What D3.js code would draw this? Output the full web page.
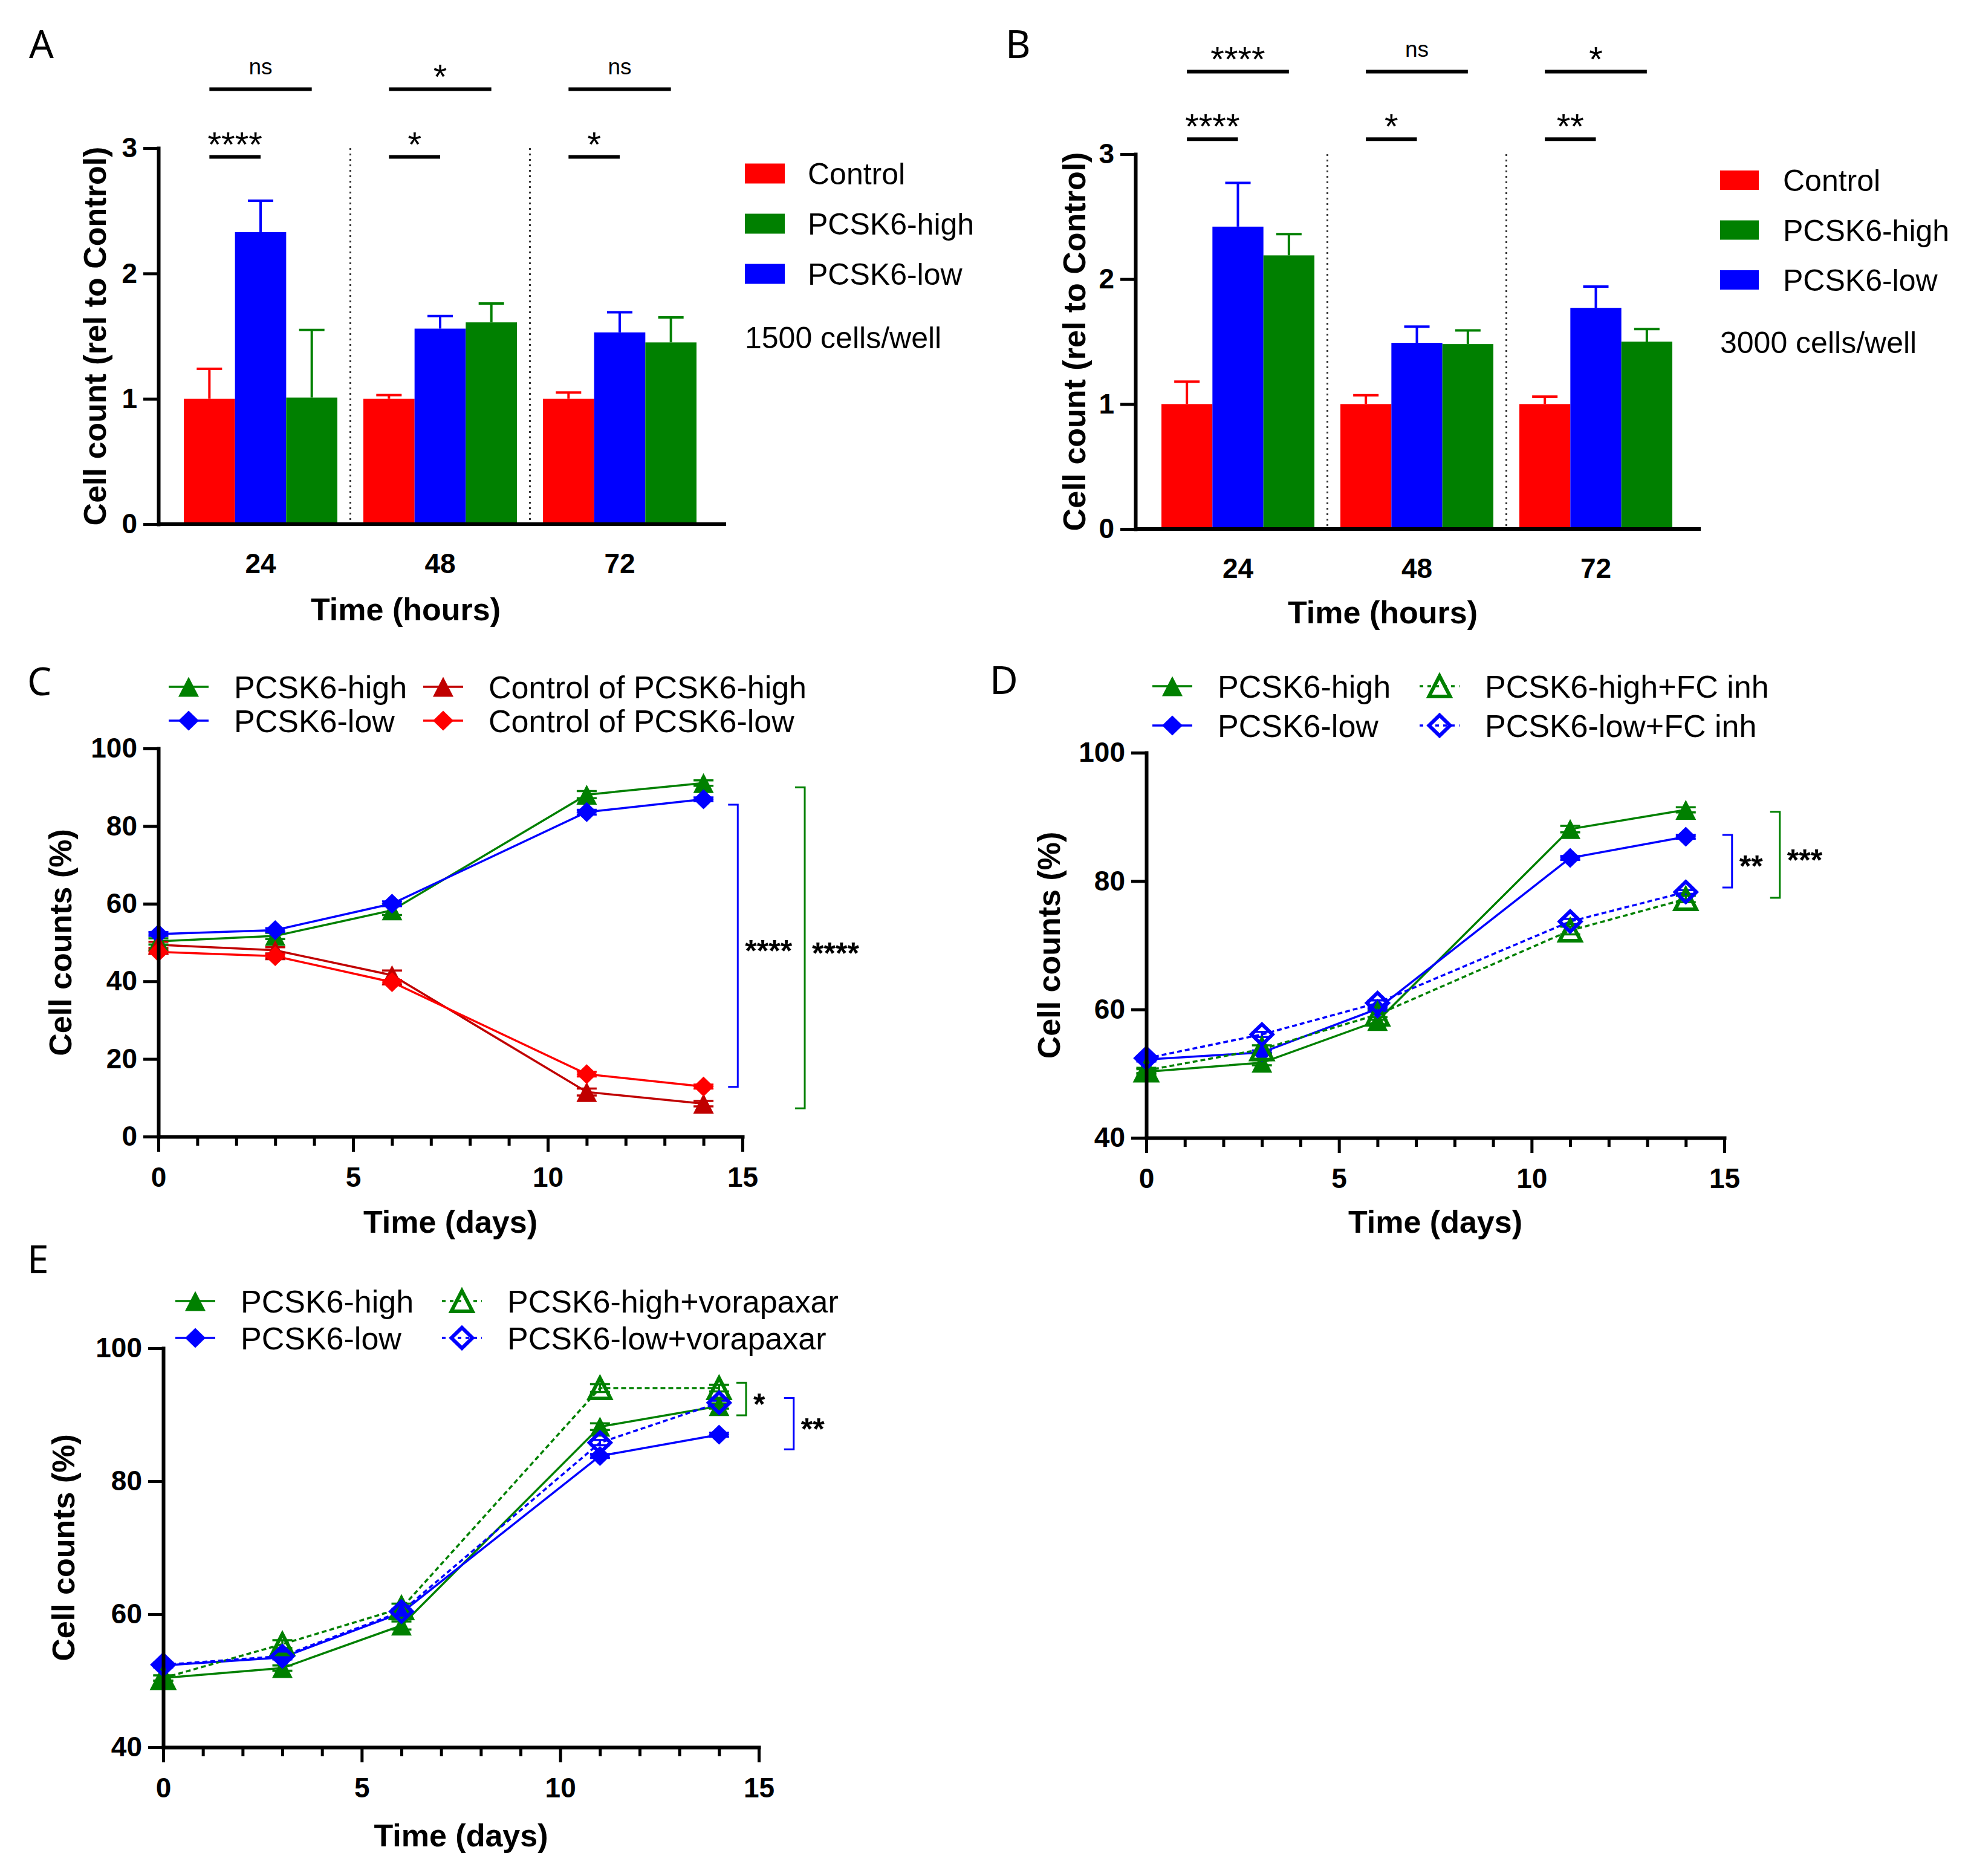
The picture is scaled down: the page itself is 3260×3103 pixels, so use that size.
<!DOCTYPE html>
<html>
<head>
<meta charset="utf-8">
<script src="https://cdn.jsdelivr.net/npm/d3@7"></script>
<style>
  body { margin: 0; background: #fff; }
  text { font-family: "Liberation Sans", Arial, sans-serif; }
</style>
</head>
<body>
<div id="container"></div>
<script>
// ---------- data ----------
// bar panels (A, B)
var barGroups = ["24", "48", "72"];
var barOrder = ["Control", "PCSK6-low", "PCSK6-high"];      // order inside each group
var barLegend = ["Control", "PCSK6-high", "PCSK6-low"];     // order in legend

var aControl = [1.00, 1.00, 1.00];
var aLow     = [2.33, 1.56, 1.53];
var aHigh    = [1.01, 1.61, 1.45];
var aControlErr = [0.24, 0.03, 0.05];
var aLowErr     = [0.25, 0.10, 0.16];
var aHighErr    = [0.54, 0.15, 0.20];
var aSigLow  = ["****", "*", "*"];    // Control vs PCSK6-low
var aSigHigh = ["ns", "*", "ns"];     // Control vs PCSK6-high

var bControl = [1.00, 1.00, 1.00];
var bLow     = [2.42, 1.49, 1.77];
var bHigh    = [2.19, 1.48, 1.50];
var bControlErr = [0.18, 0.07, 0.06];
var bLowErr     = [0.35, 0.13, 0.17];
var bHighErr    = [0.17, 0.11, 0.10];
var bSigLow  = ["****", "*", "**"];
var bSigHigh = ["****", "ns", "*"];

// line panels (C, D, E)
var days = [0, 3, 6, 11, 14];

var cHigh     = [50.3, 51.7, 58.3, 88.1, 91.1];
var cLow      = [52.2, 53.2, 60.0, 83.6, 86.9];
var cCtrlHigh = [49.4, 48.0, 41.6, 11.5, 8.5];
var cCtrlLow  = [47.6, 46.5, 39.8, 16.1, 12.9];
var cHighErr     = [0.8, 0.8, 1.2, 0.9, 0.7];
var cLowErr      = [0.5, 0.5, 0.6, 0.6, 0.5];
var cCtrlHighErr = [0.8, 0.8, 1.2, 0.9, 0.7];
var cCtrlLowErr  = [0.5, 0.5, 0.6, 0.6, 0.5];

var dHigh   = [50.3, 51.7, 58.2, 88.1, 91.1];
var dLow    = [52.2, 53.3, 60.1, 83.6, 86.9];
var dHighFC = [50.5, 53.8, 59.2, 72.3, 77.2];
var dLowFC  = [52.4, 56.1, 61.0, 73.7, 78.3];
var dHighErr   = [0.4, 0.4, 0.6, 0.5, 0.4];
var dLowErr    = [0.3, 0.3, 0.3, 0.3, 0.3];
var dHighFCErr = [0.4, 0.6, 0.8, 0.6, 0.5];
var dLowFCErr  = [0.3, 0.4, 0.4, 0.4, 0.3];

var eHigh  = [50.4, 51.9, 58.3, 88.2, 91.3];
var eLow   = [52.3, 53.5, 60.2, 83.8, 87.0];
var eHighV = [50.4, 55.5, 60.9, 94.0, 94.0];
var eLowV  = [52.4, 53.7, 60.4, 85.8, 91.8];
var eHighErr  = [0.4, 0.4, 0.6, 0.5, 0.4];
var eLowErr   = [0.3, 0.3, 0.3, 0.3, 0.3];
var eHighVErr = [0.4, 0.6, 0.7, 0.6, 0.5];
var eLowVErr  = [0.3, 0.3, 0.4, 0.4, 0.3];

var green = "#008000", blue = "#0000ff", red = "#ff0000", darkRed = "#c00000";
var barColor = {"Control": red, "PCSK6-high": green, "PCSK6-low": blue};

// ---------- symbols ----------
var triangleType = {
  draw: function(ctx, size) {
    var w = size, h = size * 0.97;
    ctx.moveTo(0, -h / 2);
    ctx.lineTo(w / 2, h / 2);
    ctx.lineTo(-w / 2, h / 2);
    ctx.closePath();
  }
};
var diamondType = {
  draw: function(ctx, size) {
    var w = size, h = size * 0.97;
    ctx.moveTo(0, -h / 2);
    ctx.lineTo(w / 2, 0);
    ctx.lineTo(0, h / 2);
    ctx.lineTo(-w / 2, 0);
    ctx.closePath();
  }
};

var svg = d3.select("#container").append("svg")
  .attr("width", 3260)
  .attr("height", 3103)
  .style("display", "block");
svg.append("rect").attr("width", 3260).attr("height", 3103).attr("fill", "#fff");

function styleAxis(g, fontSize) {
  g.attr("font-family", "'Liberation Sans', Arial, sans-serif")
    .attr("font-size", fontSize)
    .attr("font-weight", "bold")
    .attr("color", "#000");
  g.select(".domain").attr("stroke-width", 6).attr("stroke-linecap", "square");
  g.selectAll(".tick line").attr("stroke-width", 5);
}

function panelLetter(letter, x, y) {
  svg.append("text")
    .attr("x", x).attr("y", y)
    .style("font-family", "'Noto Sans', 'Open Sans', sans-serif")
    .attr("font-size", 64)
    .text(letter);
}

// ---------- bar panel ----------
function drawBarPanel(cfg) {
  var data = {
    "Control": {mean: cfg.control, err: cfg.controlErr},
    "PCSK6-low": {mean: cfg.low, err: cfg.lowErr},
    "PCSK6-high": {mean: cfg.high, err: cfg.highErr}
  };

  var step = cfg.step, pad = 43 / step;
  var x0 = d3.scaleBand()
    .domain(barGroups)
    .range([cfg.bandStart, cfg.bandStart + step * barGroups.length])
    .paddingInner(pad)
    .paddingOuter(pad / 2);
  var x1 = d3.scaleBand().domain(barOrder).range([0, x0.bandwidth()]);
  var y = d3.scaleLinear().domain([0, 3]).range([cfg.bottom, cfg.top]);

  var g = svg.append("g");

  // separators between time points
  barGroups.slice(0, -1).forEach(function(grp) {
    var sx = x0(grp) + x0.bandwidth() + step * pad / 2;
    g.append("line")
      .attr("x1", sx).attr("x2", sx)
      .attr("y1", y(3)).attr("y2", y(0))
      .attr("stroke", "#333")
      .attr("stroke-width", 3)
      .attr("stroke-dasharray", "3,6");
  });

  // bars
  barGroups.forEach(function(grp, gi) {
    barOrder.forEach(function(s) {
      var v = data[s].mean[gi];
      g.append("rect")
        .attr("x", x0(grp) + x1(s))
        .attr("y", y(v))
        .attr("width", x1.bandwidth())
        .attr("height", y(0) - y(v))
        .attr("fill", barColor[s]);
    });
  });

  // error bars (upper only)
  barGroups.forEach(function(grp, gi) {
    barOrder.forEach(function(s) {
      var v = data[s].mean[gi], e = data[s].err[gi];
      var cx = x0(grp) + x1(s) + x1.bandwidth() / 2;
      g.append("line")
        .attr("x1", cx).attr("x2", cx)
        .attr("y1", y(v)).attr("y2", y(v + e))
        .attr("stroke", barColor[s]).attr("stroke-width", 4);
      g.append("line")
        .attr("x1", cx - 21).attr("x2", cx + 21)
        .attr("y1", y(v + e)).attr("y2", y(v + e))
        .attr("stroke", barColor[s]).attr("stroke-width", 4);
    });
  });

  // axes
  var yAxis = g.append("g")
    .attr("transform", "translate(" + cfg.axisX + ",0)")
    .call(d3.axisLeft(y).tickValues([0, 1, 2, 3]).tickSize(25).tickPadding(10)
      .tickSizeOuter(0).tickFormat(d3.format("d")));
  styleAxis(yAxis, 46);

  g.append("line")
    .attr("x1", cfg.axisX).attr("x2", cfg.axisEnd)
    .attr("y1", y(0)).attr("y2", y(0))
    .attr("stroke", "#000").attr("stroke-width", 6);

  var xAxis = g.append("g")
    .attr("transform", "translate(0," + y(0) + ")")
    .call(d3.axisBottom(x0).tickSize(0).tickPadding(48));
  styleAxis(xAxis, 46);
  xAxis.select(".domain").remove();

  // significance
  function sigRow(labels, target, level) {
    barGroups.forEach(function(grp, gi) {
      var xa = x0(grp) + x1("Control") + x1.bandwidth() / 2;
      var xb = x0(grp) + x1(target) + x1.bandwidth() / 2;
      var ly = y(level);
      g.append("line")
        .attr("x1", xa).attr("x2", xb)
        .attr("y1", ly).attr("y2", ly)
        .attr("stroke", "#000").attr("stroke-width", 6);
      var isNs = labels[gi] === "ns";
      g.append("text")
        .attr("x", (xa + xb) / 2)
        .attr("y", isNs ? ly - 25 : ly - 1)
        .attr("text-anchor", "middle")
        .attr("font-size", isNs ? 37 : 58)
        .text(labels[gi]);
    });
  }
  sigRow(cfg.sigLow, "PCSK6-low", cfg.sigLevels[0]);
  sigRow(cfg.sigHigh, "PCSK6-high", cfg.sigLevels[1]);

  // legend
  barLegend.forEach(function(s, i) {
    var cy = cfg.legY + i * cfg.legStep;
    g.append("rect")
      .attr("x", cfg.legX).attr("y", cy - cfg.legH / 2)
      .attr("width", cfg.legW).attr("height", cfg.legH)
      .attr("fill", barColor[s]);
    g.append("text")
      .attr("x", cfg.legTextX).attr("y", cy + 18)
      .attr("font-size", 50)
      .text(s);
  });
  g.append("text")
    .attr("x", cfg.legX).attr("y", cfg.noteY + 18)
    .attr("font-size", 50)
    .text(cfg.note);

  // titles
  g.append("text")
    .attr("x", cfg.xTitleX).attr("y", cfg.xTitleY)
    .attr("text-anchor", "middle")
    .attr("font-size", 52).attr("font-weight", "bold")
    .text("Time (hours)");
  g.append("text")
    .attr("transform", "translate(" + cfg.yTitleX + "," + (y(0) + y(3)) / 2 + ") rotate(-90)")
    .attr("text-anchor", "middle")
    .attr("font-size", 52).attr("font-weight", "bold")
    .text("Cell count (rel to Control)");
}

// ---------- line panel ----------
function drawLinePanel(cfg) {
  var x = d3.scaleLinear().domain([0, 15]).range([cfg.left, cfg.right]);
  var y = d3.scaleLinear().domain([cfg.yMin, 100]).range([cfg.bottom, cfg.top]);
  var g = svg.append("g");

  var line = d3.line()
    .x(function(d, i) { return x(days[i]); })
    .y(function(d) { return y(d); });

  function markerPath(s) {
    return d3.symbol()
      .type(s.marker === "triangle" ? triangleType : diamondType)
      .size(s.hollow ? 35 : 34)();
  }

  // lines
  cfg.series.forEach(function(s) {
    g.append("path")
      .attr("d", line(s.values))
      .attr("fill", "none")
      .attr("stroke", s.color)
      .attr("stroke-width", 3.5)
      .attr("stroke-dasharray", s.dashed ? "8,5" : null);
  });

  // error bars
  cfg.series.forEach(function(s) {
    s.values.forEach(function(v, i) {
      var cx = x(days[i]), ya = y(v - s.err[i]), yb = y(v + s.err[i]);
      g.append("path")
        .attr("d", "M" + cx + "," + ya + "V" + yb +
          "M" + (cx - 16.5) + "," + ya + "H" + (cx + 16.5) +
          "M" + (cx - 16.5) + "," + yb + "H" + (cx + 16.5))
        .attr("fill", "none")
        .attr("stroke", s.color)
        .attr("stroke-width", 3.5);
    });
  });

  // markers
  cfg.series.forEach(function(s) {
    g.selectAll(null)
      .data(s.values)
      .enter()
      .append("path")
      .attr("transform", function(d, i) { return "translate(" + x(days[i]) + "," + y(d) + ")"; })
      .attr("d", markerPath(s))
      .attr("fill", s.hollow ? "none" : s.color)
      .attr("stroke", s.hollow ? s.color : "none")
      .attr("stroke-width", 6);
  });

  // axes
  var yAxis = g.append("g")
    .attr("transform", "translate(" + cfg.left + ",0)")
    .call(d3.axisLeft(y).tickValues(d3.range(cfg.yMin, 101, 20)).tickSize(25)
      .tickPadding(10).tickSizeOuter(0));
  styleAxis(yAxis, 46);

  var minor = g.append("g")
    .attr("transform", "translate(0," + cfg.bottom + ")")
    .call(d3.axisBottom(x).tickValues(d3.range(1, 15).filter(function(d) { return d % 5 !== 0; }))
      .tickSize(15).tickFormat(""));
  styleAxis(minor, 46);
  minor.select(".domain").remove();

  var xAxis = g.append("g")
    .attr("transform", "translate(0," + cfg.bottom + ")")
    .call(d3.axisBottom(x).tickValues([0, 5, 10, 15]).tickSize(25).tickPadding(25)
      .tickSizeOuter(0));
  styleAxis(xAxis, 46);

  // significance brackets
  cfg.brackets.forEach(function(b) {
    var bx = x(b.x), ya = y(b.y0), yb = y(b.y1);
    g.append("path")
      .attr("d", "M" + (bx - 16) + "," + ya + "H" + bx + "V" + yb + "H" + (bx - 16))
      .attr("fill", "none")
      .attr("stroke", b.color)
      .attr("stroke-width", 3);
    g.append("text")
      .attr("x", bx + 12)
      .attr("y", (ya + yb) / 2 + 26)
      .attr("font-size", 50).attr("font-weight", "bold")
      .text(b.label);
  });

  // legend (2 x 2)
  cfg.series.forEach(function(s, i) {
    var col = Math.floor(i / 2), row = i % 2;
    var sx = cfg.legCols[col], sy = cfg.legRows[row];
    g.append("line")
      .attr("x1", sx - 33).attr("x2", sx + 33)
      .attr("y1", sy).attr("y2", sy)
      .attr("stroke", s.color).attr("stroke-width", 3.5)
      .attr("stroke-dasharray", s.dashed ? "6,7" : null);
    g.append("path")
      .attr("transform", "translate(" + sx + "," + sy + ")")
      .attr("d", markerPath(s))
      .attr("fill", "none")
      .attr("fill", s.hollow ? "none" : s.color)
      .attr("stroke", s.hollow ? s.color : "none")
      .attr("stroke-width", 6);
    g.append("text")
      .attr("x", sx + 75).attr("y", sy + 19)
      .attr("font-size", 52)
      .text(s.name);
  });

  // titles
  g.append("text")
    .attr("x", (cfg.left + cfg.right) / 2).attr("y", cfg.xTitleY)
    .attr("text-anchor", "middle")
    .attr("font-size", 52).attr("font-weight", "bold")
    .text("Time (days)");
  g.append("text")
    .attr("transform", "translate(" + cfg.yTitleX + "," + (cfg.top + cfg.bottom) / 2 + ") rotate(-90)")
    .attr("text-anchor", "middle")
    .attr("font-size", 52).attr("font-weight", "bold")
    .text("Cell counts (%)");
}

// ---------- panels ----------
drawBarPanel({
  control: aControl, low: aLow, high: aHigh,
  controlErr: aControlErr, lowErr: aLowErr, highErr: aHighErr,
  sigLow: aSigLow, sigHigh: aSigHigh, sigLevels: [2.93, 3.47],
  axisX: 262, axisEnd: 1201, top: 245, bottom: 867, bandStart: 282.5, step: 297,
  legX: 1232, legY: 287, legStep: 83, legW: 66, legH: 33, legTextX: 1336,
  note: "1500 cells/well", noteY: 558,
  xTitleX: 671, xTitleY: 1026, yTitleX: 175
});

drawBarPanel({
  control: bControl, low: bLow, high: bHigh,
  controlErr: bControlErr, lowErr: bLowErr, highErr: bHighErr,
  sigLow: bSigLow, sigHigh: bSigHigh, sigLevels: [3.12, 3.66],
  axisX: 1878, axisEnd: 2813, top: 255, bottom: 875, bandStart: 1899.5, step: 296,
  legX: 2845, legY: 298, legStep: 82.5, legW: 64, legH: 32, legTextX: 2949,
  note: "3000 cells/well", noteY: 566,
  xTitleX: 2287, xTitleY: 1031, yTitleX: 1795
});

drawLinePanel({
  left: 262, right: 1228, top: 1238, bottom: 1880, yMin: 0,
  series: [
    {name: "PCSK6-high", values: cHigh, err: cHighErr, color: green, marker: "triangle"},
    {name: "PCSK6-low", values: cLow, err: cLowErr, color: blue, marker: "diamond"},
    {name: "Control of PCSK6-high", values: cCtrlHigh, err: cCtrlHighErr, color: darkRed, marker: "triangle"},
    {name: "Control of PCSK6-low", values: cCtrlLow, err: cCtrlLowErr, color: red, marker: "diamond"}
  ],
  brackets: [
    {x: 14.88, y0: 85.5, y1: 12.8, color: blue, label: "****"},
    {x: 16.6, y0: 90.0, y1: 7.3, color: green, label: "****"}
  ],
  legCols: [312, 733], legRows: [1136, 1192],
  xTitleY: 2039, yTitleX: 118
});

drawLinePanel({
  left: 1896, right: 2852, top: 1245, bottom: 1882, yMin: 40,
  series: [
    {name: "PCSK6-high", values: dHigh, err: dHighErr, color: green, marker: "triangle"},
    {name: "PCSK6-low", values: dLow, err: dLowErr, color: blue, marker: "diamond"},
    {name: "PCSK6-high+FC inh", values: dHighFC, err: dHighFCErr, color: green, marker: "triangle", hollow: true, dashed: true},
    {name: "PCSK6-low+FC inh", values: dLowFC, err: dLowFCErr, color: blue, marker: "diamond", hollow: true, dashed: true}
  ],
  brackets: [
    {x: 15.2, y0: 87.2, y1: 79.0, color: blue, label: "**"},
    {x: 16.44, y0: 90.8, y1: 77.4, color: green, label: "***"}
  ],
  legCols: [1939, 2381], legRows: [1135, 1200],
  xTitleY: 2039, yTitleX: 1753
});

drawLinePanel({
  left: 270, right: 1255, top: 2230, bottom: 2890, yMin: 40,
  series: [
    {name: "PCSK6-high", values: eHigh, err: eHighErr, color: green, marker: "triangle"},
    {name: "PCSK6-low", values: eLow, err: eLowErr, color: blue, marker: "diamond"},
    {name: "PCSK6-high+vorapaxar", values: eHighV, err: eHighVErr, color: green, marker: "triangle", hollow: true, dashed: true},
    {name: "PCSK6-low+vorapaxar", values: eLowV, err: eLowVErr, color: blue, marker: "diamond", hollow: true, dashed: true}
  ],
  brackets: [
    {x: 14.68, y0: 94.8, y1: 89.9, color: green, label: "*"},
    {x: 15.88, y0: 92.5, y1: 84.8, color: blue, label: "**"}
  ],
  legCols: [323, 764], legRows: [2152, 2213],
  xTitleY: 3054, yTitleX: 123
});

panelLetter("A", 48, 96);
panelLetter("B", 1663, 96);
panelLetter("C", 45, 1150);
panelLetter("D", 1637, 1148);
panelLetter("E", 45, 2106);
</script>
</body>
</html>
